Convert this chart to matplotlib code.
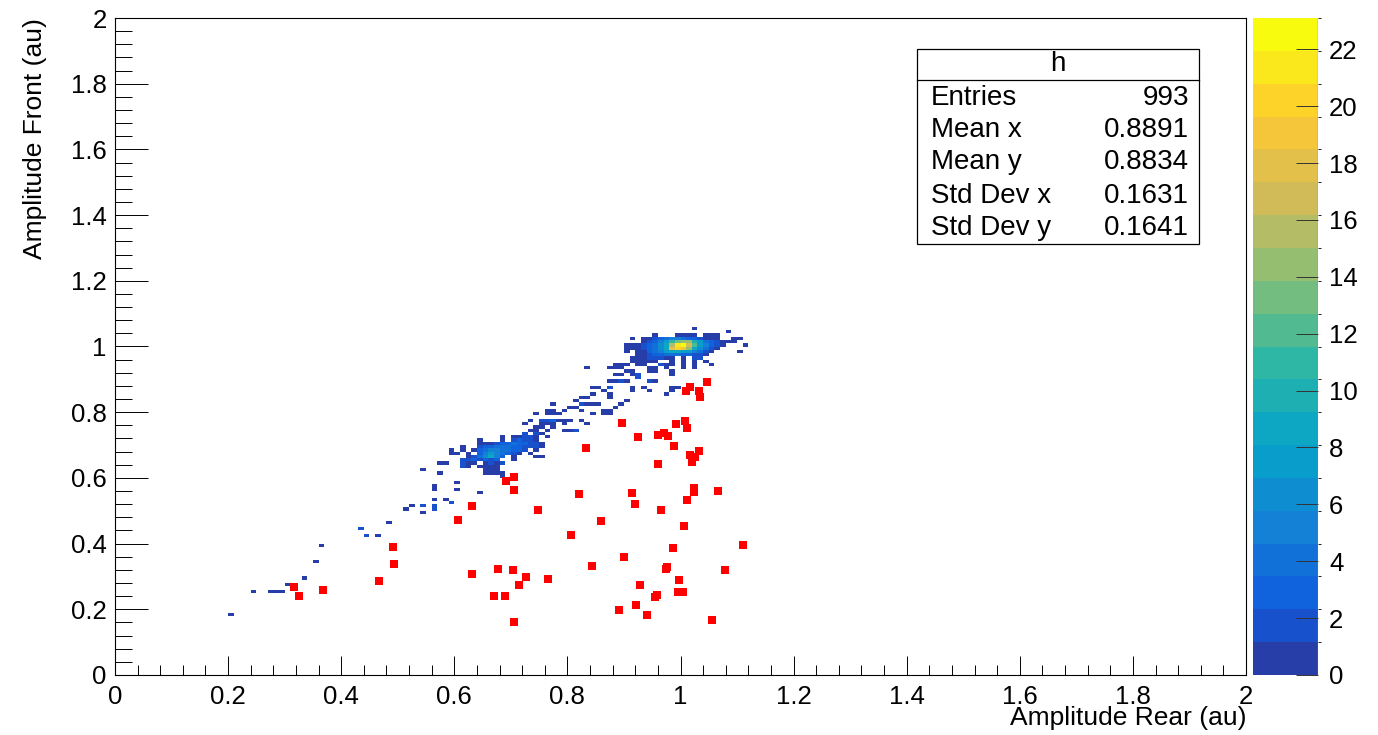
"""ROOT-style COLZ histogram of front vs rear amplitude with red overlay points."""

import matplotlib
matplotlib.use("Agg")
import matplotlib.pyplot as plt
import numpy as np
from matplotlib.colors import BoundaryNorm, ListedColormap, LinearSegmentedColormap
from matplotlib.patches import Rectangle
from matplotlib.ticker import FuncFormatter, MultipleLocator

plt.rcParams["font.family"] = ["Liberation Sans", "DejaVu Sans"]

BIN = 0.01

# histogram rows: (row lower edge y, first bin lower edge x, counts per 0.01 bin)
UPPER_CLUSTER_ROWS = [
    (1.05, 1.02, [1]),
    (1.04, 1.08, [1]),
    (1.03, 0.95, [1, 0, 0, 0, 1, 1, 1, 1, 0, 1, 1, 1]),
    (1.02, 0.91, [1, 0, 1, 1, 2, 3, 4, 5, 5, 4, 3, 3, 2, 1, 1, 1, 0, 0, 1, 1]),
    (1.01, 0.93, [1, 2, 3, 5, 8, 11, 13, 15, 14, 10, 7, 4, 3, 2, 1, 1, 1]),
    (1.00, 0.90, [1, 1, 1, 2, 3, 4, 6, 9, 16, 21, 22, 17, 12, 8, 5, 3, 2, 1, 0, 0, 0, 1]),
    (0.99, 0.90, [1, 1, 1, 2, 3, 4, 6, 9, 18, 20, 19, 14, 9, 6, 4, 2, 1]),
    (0.98, 0.90, [1, 0, 1, 1, 3, 4, 5, 7, 9, 9, 8, 7, 5, 4, 2, 1, 0, 0, 0, 0, 1]),
    (0.97, 0.92, [1, 1, 2, 3, 3, 4, 4, 4, 3, 3, 2, 2, 1]),
    (0.96, 0.91, [1, 1, 1, 2, 2, 2, 1, 1, 0, 1, 0, 2, 2]),
    (0.95, 0.91, [1, 1, 1, 1, 1, 0, 0, 1, 0, 1, 0, 1, 0, 1]),
]

BAND_ROWS = [
    (0.94, 0.88, [1, 1, 1, 0, 1, 1, 0, 0, 2, 1, 1, 0, 1, 0, 1, 0, 0, 1]),
    (0.93, 0.83, [1, 0, 0, 0, 1, 1, 1, 0, 0, 0, 0, 1, 1, 0, 1, 0, 0, 1, 0, 1]),
    (0.92, 0.90, [1, 1, 0, 0, 1, 1, 0, 0, 1]),
    (0.91, 0.88, [1, 1, 0, 1, 2, 0, 0, 0, 0, 0, 1]),
    (0.90, 0.92, [2]),
    (0.89, 0.87, [1, 1, 2, 1, 0, 0, 0, 2, 1]),
    (0.87, 0.84, [1, 1, 0, 2, 0, 0, 0, 1, 0, 1, 0, 0, 0, 0, 1, 1]),
    (0.86, 0.86, [1, 0, 0, 0, 0, 1, 0, 0, 1, 0, 0, 0, 1]),
    (0.85, 0.84, [1, 0, 0, 1, 0, 0, 0, 0, 0, 0, 0, 0, 0, 1]),
    (0.84, 0.82, [1, 1, 0, 0, 0, 1]),
    (0.83, 0.81, [1, 0, 0, 0, 0, 0, 0, 0, 0, 1]),
    (0.82, 0.77, [1, 0, 0, 0, 0, 2, 1, 1, 1, 0, 0, 0, 1]),
    (0.81, 0.80, [1, 1, 0, 0, 0, 0, 0, 0, 1]),
    (0.80, 0.76, [1, 1, 0, 1, 0, 0, 1, 0, 0, 0, 1, 1]),
    (0.79, 0.74, [1, 0, 1, 1, 1, 0, 0, 0, 0, 0, 1, 0, 1, 1]),
    (0.77, 0.73, [1, 0, 2, 2, 3, 1, 1, 1, 0, 1]),
    (0.76, 0.72, [1, 0, 0, 1, 1, 1, 0, 1, 0, 0, 0, 1]),
    (0.75, 0.74, [1, 1, 0, 1]),
    (0.74, 0.73, [1, 1, 0, 1, 0, 0, 1, 1, 2]),
    (0.73, 0.72, [2, 0, 2, 1]),
    (0.72, 0.68, [1, 0, 1, 1, 2, 2, 1, 0, 1]),
]

LOWER_CLUSTER_ROWS = [
    (0.71, 0.64, [1, 0, 0, 0, 1, 0, 2, 3, 2, 2, 1]),
    (0.70, 0.64, [1, 1, 1, 2, 3, 3, 4, 3, 3, 2, 2, 1]),
    (0.69, 0.61, [1, 0, 0, 2, 3, 3, 4, 4, 4, 3, 3, 2, 2, 2, 1]),
    (0.68, 0.59, [1, 0, 1, 0, 1, 3, 4, 5, 5, 4, 4, 3, 3, 2, 0, 1]),
    (0.67, 0.59, [1, 1, 0, 1, 0, 3, 5, 7, 5, 4, 3, 2, 1, 0, 1]),
    (0.66, 0.62, [1, 2, 4, 6, 9, 5, 3, 0, 1, 0, 0, 0, 1, 1]),
    (0.65, 0.61, [2, 2, 3, 2, 3, 2, 3, 0, 0, 1]),
    (0.64, 0.57, [1, 1, 0, 0, 2, 1, 1, 0, 1, 2, 1, 2]),
    (0.63, 0.61, [2, 1, 0, 1, 1, 1, 1]),
    (0.62, 0.54, [1, 0, 0, 0, 0, 0, 0, 0, 0, 0, 0, 1, 1, 1]),
    (0.61, 0.57, [1, 0, 0, 0, 0, 0, 0, 0, 1, 1, 1, 1]),
    (0.60, 0.68, [1]),
]

TAIL_ROWS = [
    (0.58, 0.60, [1]),
    (0.57, 0.56, [1]),
    (0.56, 0.56, [1, 0, 0, 0, 1]),
    (0.55, 0.64, [1]),
    (0.53, 0.56, [1, 0, 1]),
    (0.52, 0.59, [2]),
    (0.51, 0.52, [1, 0, 2, 0, 2]),
    (0.50, 0.51, [1, 0, 0, 0, 0, 2]),
    (0.49, 0.54, [1]),
    (0.46, 0.48, [1]),
    (0.44, 0.43, [2]),
    (0.42, 0.44, [2, 0, 1]),
    (0.39, 0.36, [1]),
    (0.34, 0.35, [1]),
    (0.29, 0.33, [1]),
    (0.27, 0.30, [1]),
    (0.25, 0.24, [1, 0, 0, 1, 1, 1]),
    (0.18, 0.20, [1]),
]

# red overlay points
RED_X = [1.046, 1.017, 1.010, 1.033, 1.034, 0.897, 0.992, 1.008, 1.011, 0.924,
         0.961, 0.970, 0.978, 0.989, 0.833, 1.033, 1.017, 1.026, 1.021, 0.961,
         0.691, 0.706, 0.706, 1.023, 1.024, 1.067, 0.820, 0.915, 0.920, 1.011,
         0.632, 0.748, 0.966, 0.607, 0.859, 1.006, 0.806, 0.987, 1.110, 0.900,
         0.843, 0.976, 0.974, 1.079, 0.631, 0.677, 0.703, 0.726, 0.766, 0.714,
         0.998, 0.928, 0.671, 0.690, 0.958, 0.955, 0.995, 1.005, 0.922, 0.891,
         0.940, 0.706, 1.056, 0.317, 0.325, 0.367, 0.466, 0.493, 0.491]
RED_Y = [0.891, 0.878, 0.865, 0.866, 0.847, 0.766, 0.764, 0.773, 0.753, 0.724,
         0.732, 0.738, 0.728, 0.697, 0.691, 0.683, 0.670, 0.665, 0.649, 0.641,
         0.592, 0.602, 0.563, 0.570, 0.558, 0.560, 0.551, 0.553, 0.521, 0.533,
         0.514, 0.502, 0.501, 0.471, 0.469, 0.455, 0.426, 0.388, 0.397, 0.359,
         0.333, 0.330, 0.324, 0.320, 0.307, 0.323, 0.319, 0.298, 0.291, 0.275,
         0.290, 0.273, 0.240, 0.240, 0.244, 0.237, 0.252, 0.253, 0.214, 0.198,
         0.183, 0.161, 0.168, 0.268, 0.240, 0.258, 0.286, 0.339, 0.391]

STATS_LABELS = ["Entries", "Mean x", "Mean y", "Std Dev x", "Std Dev y"]
STATS_VALUES = ["993", "0.8891", "0.8834", "0.1631", "0.1641"]

# ROOT kBird palette
BIRD_STOPS = [0.0, 0.125, 0.25, 0.375, 0.5, 0.625, 0.75, 0.875, 1.0]
BIRD_R = [0.2082, 0.0592, 0.0780, 0.0232, 0.1802, 0.5301, 0.8186, 0.9956, 0.9764]
BIRD_G = [0.1664, 0.3599, 0.5041, 0.6419, 0.7178, 0.7492, 0.7328, 0.7862, 0.9832]
BIRD_B = [0.5293, 0.8684, 0.8385, 0.7914, 0.6425, 0.4662, 0.3499, 0.1968, 0.0539]


def expand_rows(rows):
    xs, ys, ws = [], [], []
    for y0, x0, counts in rows:
        for k, n in enumerate(counts):
            if n:
                xs.append(x0 + k * BIN + BIN / 2)
                ys.append(y0 + BIN / 2)
                ws.append(n)
    return xs, ys, ws


def main():
    xs, ys, ws = [], [], []
    for rows in (UPPER_CLUSTER_ROWS, BAND_ROWS, LOWER_CLUSTER_ROWS, TAIL_ROWS):
        x, y, w = expand_rows(rows)
        xs += x
        ys += y
        ws += w
    edges = np.linspace(0, 2, 201)
    counts, _, _ = np.histogram2d(xs, ys, bins=[edges, edges], weights=ws)
    counts = np.ma.masked_equal(counts.T, 0)

    zmax = 1.05 * counts.max()
    ncont = 20
    bird = LinearSegmentedColormap.from_list(
        "bird", list(zip(BIRD_STOPS, zip(BIRD_R, BIRD_G, BIRD_B))), N=255)
    cmap = ListedColormap([bird((i + 0.99) / ncont) for i in range(ncont)])
    norm = BoundaryNorm(np.linspace(0, zmax, ncont + 1), ncont)

    W, H = 1378, 735
    fig = plt.figure(figsize=(W / 100, H / 100), dpi=100)
    ax = fig.add_axes([115 / W, 60 / H, 1131 / W, 657 / H])
    cax = fig.add_axes([1253 / W, 60 / H, 65 / W, 657 / H])

    mesh = ax.pcolormesh(edges, edges, counts, cmap=cmap, norm=norm,
                         edgecolors="none", antialiased=False)
    ax.plot(RED_X, RED_Y, "s", color="red", markersize=5.5, markeredgewidth=0)

    ax.set_xlim(0, 2)
    ax.set_ylim(0, 2)
    fmt = FuncFormatter(lambda v, p: f"{v:g}")
    for axis in (ax.xaxis, ax.yaxis):
        axis.set_major_locator(MultipleLocator(0.2))
        axis.set_minor_locator(MultipleLocator(0.04))
        axis.set_major_formatter(fmt)
    ax.tick_params(axis="x", which="major", direction="in", length=14, width=0.7,
                   labelsize=18.5, pad=7)
    ax.tick_params(axis="x", which="minor", direction="in", length=7, width=0.7)
    ax.tick_params(axis="y", which="major", direction="in", length=24, width=0.7,
                   labelsize=18.5, pad=6)
    ax.tick_params(axis="y", which="minor", direction="in", length=12, width=0.7)
    for sp in ax.spines.values():
        sp.set_linewidth(0.8)

    fig.text(1246 / W, 1 - 718 / H, "Amplitude Rear (au)", ha="right", va="center",
             fontsize=19)
    fig.text(35 / W, 1 - 18 / H, "Amplitude Front (au)", ha="center", va="top",
             rotation=90, fontsize=19)

    cb = fig.colorbar(mesh, cax=cax, ticks=np.arange(0, 23, 2))
    cb.outline.set_visible(False)
    cb.ax.set_yticklabels([f"{t}" for t in range(0, 23, 2)])
    cax.tick_params(direction="in", length=16, width=0.7, labelsize=18.5, pad=8,
                    color="#333333")
    cax.axvline(1.0, color="#888888", lw=1)

    # stats box
    bx0, bx1 = 917 / W, 1199 / W
    by0, by1 = 1 - 244 / H, 1 - 49 / H
    fig.patches.append(Rectangle((bx0, by0), bx1 - bx0, by1 - by0, transform=fig.transFigure,
                                 facecolor="white", edgecolor="black", lw=0.9))
    fig.add_artist(plt.Line2D([bx0, bx1], [1 - 80 / H] * 2, transform=fig.transFigure,
                              color="black", lw=0.9))
    fig.text((bx0 + bx1) / 2, 1 - 64 / H, "h", ha="center", va="center", fontsize=20)
    row_y = [98, 130, 162, 196, 228]
    for lab, val, py in zip(STATS_LABELS, STATS_VALUES, row_y):
        fig.text(931 / W, 1 - py / H, lab, ha="left", va="center", fontsize=20)
        fig.text(1189 / W, 1 - py / H, val, ha="right", va="center", fontsize=20)

    fig.savefig("out.png", dpi=100)


if __name__ == "__main__":
    main()
